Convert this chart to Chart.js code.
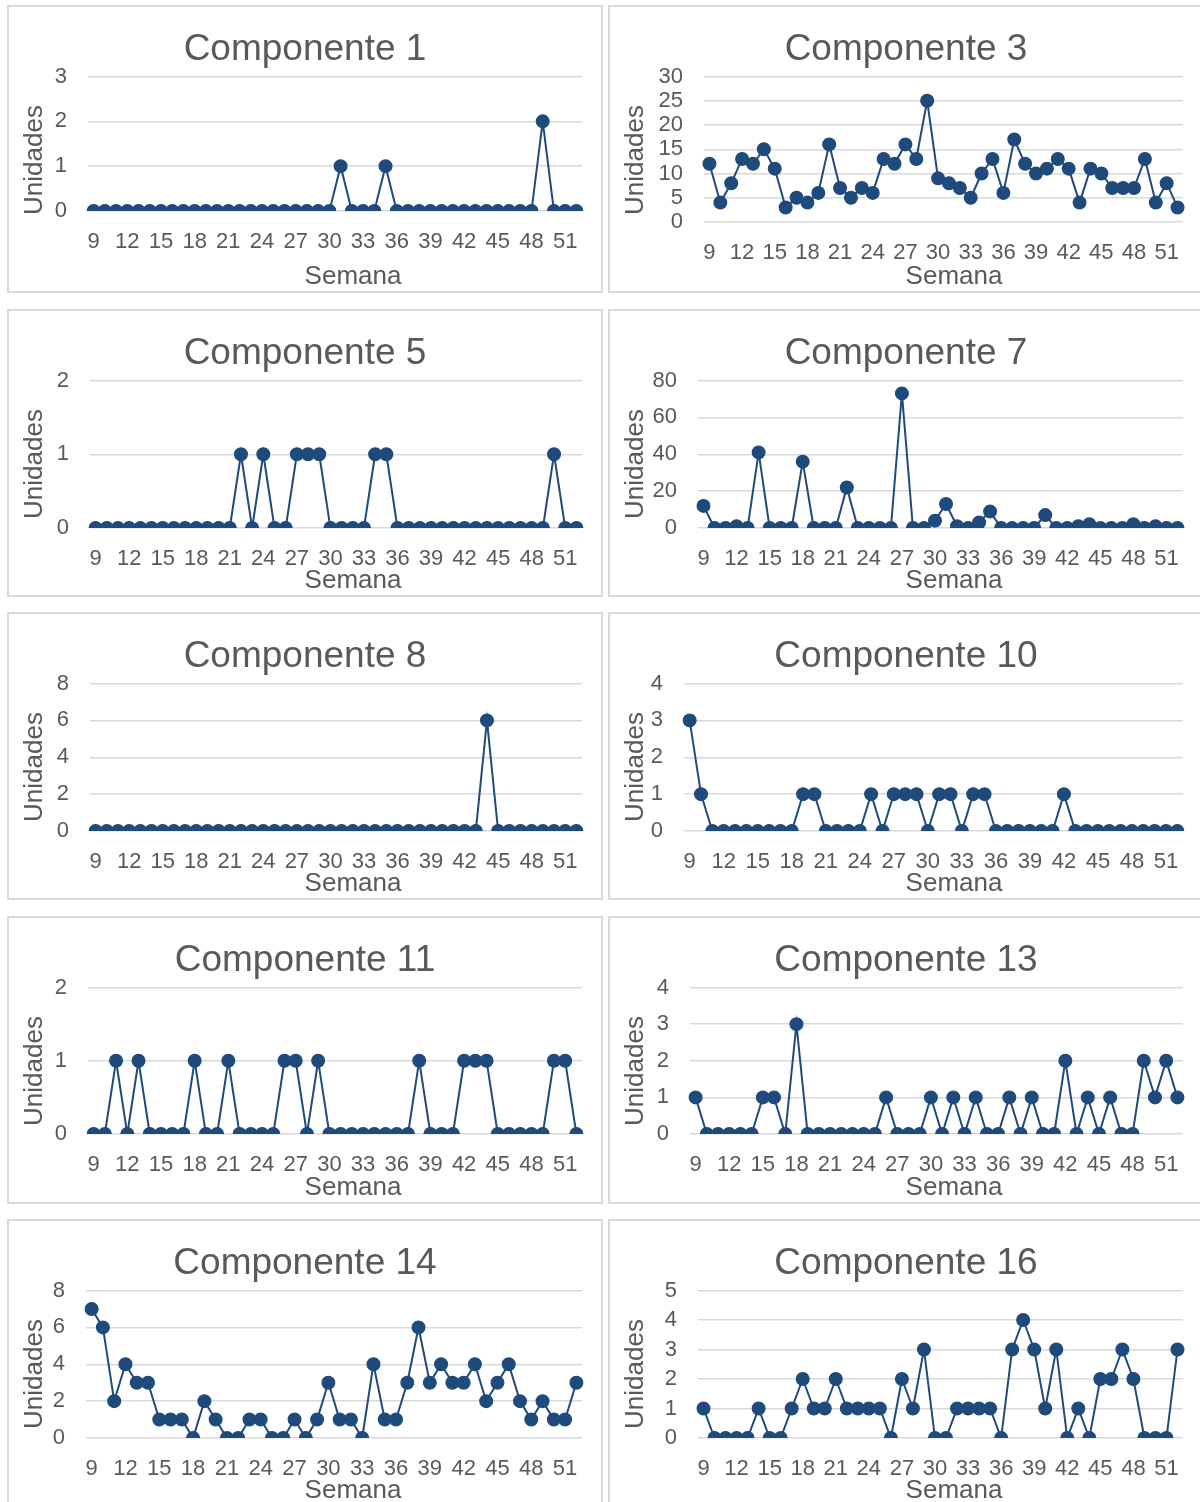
<!DOCTYPE html>
<html lang="es">
<head>
<meta charset="utf-8">
<title>Unidades por semana y componente</title>
<script src="https://cdn.jsdelivr.net/npm/chart.js@4"></script>
<style>
  html, body { margin: 0; padding: 0; background: #fff; }
  body { width: 1200px; height: 1502px; position: relative; overflow: hidden; }
  .panel {
    position: absolute;
    width: 596px;
    height: 288px;
    box-sizing: border-box;
    border: 2px solid #d9d9d9;
  }
  .panel canvas { position: absolute; left: -2px; top: -2px; }
</style>
</head>
<body>
<script>
// semanas del año (eje x)
const semanas = [9, 10, 11, 12, 13, 14, 15, 16, 17, 18, 19, 20, 21, 22, 23, 24, 25, 26, 27, 28, 29, 30,
  31, 32, 33, 34, 35, 36, 37, 38, 39, 40, 41, 42, 43, 44, 45, 46, 47, 48, 49, 50, 51, 52];

// unidades por semana de cada componente
const comp1 = [0, 0, 0, 0, 0, 0, 0, 0, 0, 0, 0, 0, 0, 0, 0, 0, 0, 0, 0, 0, 0, 0,
  1, 0, 0, 0, 1, 0, 0, 0, 0, 0, 0, 0, 0, 0, 0, 0, 0, 0, 2, 0, 0, 0];
const comp3 = [12, 4, 8, 13, 12, 15, 11, 3, 5, 4, 6, 16, 7, 5, 7, 6, 13, 12, 16, 13, 25, 9,
  8, 7, 5, 10, 13, 6, 17, 12, 10, 11, 13, 11, 4, 11, 10, 7, 7, 7, 13, 4, 8, 3];
const comp5 = [0, 0, 0, 0, 0, 0, 0, 0, 0, 0, 0, 0, 0, 1, 0, 1, 0, 0, 1, 1, 1, 0,
  0, 0, 0, 1, 1, 0, 0, 0, 0, 0, 0, 0, 0, 0, 0, 0, 0, 0, 0, 1, 0, 0];
const comp7 = [12, 0, 0, 1, 0, 41, 0, 0, 0, 36, 0, 0, 0, 22, 0, 0, 0, 0, 73, 0, 0, 4,
  13, 1, 0, 3, 9, 0, 0, 0, 0, 7, 0, 0, 1, 2, 0, 0, 0, 2, 0, 1, 0, 0];
const comp8 = [0, 0, 0, 0, 0, 0, 0, 0, 0, 0, 0, 0, 0, 0, 0, 0, 0, 0, 0, 0, 0, 0,
  0, 0, 0, 0, 0, 0, 0, 0, 0, 0, 0, 0, 0, 6, 0, 0, 0, 0, 0, 0, 0, 0];
const comp10 = [3, 1, 0, 0, 0, 0, 0, 0, 0, 0, 1, 1, 0, 0, 0, 0, 1, 0, 1, 1, 1, 0,
  1, 1, 0, 1, 1, 0, 0, 0, 0, 0, 0, 1, 0, 0, 0, 0, 0, 0, 0, 0, 0, 0];
const comp11 = [0, 0, 1, 0, 1, 0, 0, 0, 0, 1, 0, 0, 1, 0, 0, 0, 0, 1, 1, 0, 1, 0,
  0, 0, 0, 0, 0, 0, 0, 1, 0, 0, 0, 1, 1, 1, 0, 0, 0, 0, 0, 1, 1, 0];
const comp13 = [1, 0, 0, 0, 0, 0, 1, 1, 0, 3, 0, 0, 0, 0, 0, 0, 0, 1, 0, 0, 0, 1,
  0, 1, 0, 1, 0, 0, 1, 0, 1, 0, 0, 2, 0, 1, 0, 1, 0, 0, 2, 1, 2, 1];
const comp14 = [7, 6, 2, 4, 3, 3, 1, 1, 1, 0, 2, 1, 0, 0, 1, 1, 0, 0, 1, 0, 1, 3,
  1, 1, 0, 4, 1, 1, 3, 6, 3, 4, 3, 3, 4, 2, 3, 4, 2, 1, 2, 1, 1, 3];
const comp16 = [1, 0, 0, 0, 0, 1, 0, 0, 1, 2, 1, 1, 2, 1, 1, 1, 1, 0, 2, 1, 3, 0,
  0, 1, 1, 1, 1, 0, 3, 4, 3, 1, 3, 0, 1, 0, 2, 2, 3, 2, 0, 0, 0, 3];

// un gráfico por componente: título, serie y escala del eje y
const graficos = [
  { titulo: 'Componente 1', datos: comp1, max: 3, paso: 1 },
  { titulo: 'Componente 3', datos: comp3, max: 30, paso: 5 },
  { titulo: 'Componente 5', datos: comp5, max: 2, paso: 1 },
  { titulo: 'Componente 7', datos: comp7, max: 80, paso: 20 },
  { titulo: 'Componente 8', datos: comp8, max: 8, paso: 2 },
  { titulo: 'Componente 10', datos: comp10, max: 4, paso: 1 },
  { titulo: 'Componente 11', datos: comp11, max: 2, paso: 1 },
  { titulo: 'Componente 13', datos: comp13, max: 4, paso: 1 },
  { titulo: 'Componente 14', datos: comp14, max: 8, paso: 2 },
  { titulo: 'Componente 16', datos: comp16, max: 5, paso: 1 }
];

// rejilla de paneles (px de página)
const columnas = [7, 608];
const filas = [5, 309, 612, 916, 1219];
const ANCHO = 596, ALTO = 288;

// margen izquierdo del área de trazado y posición de la línea del cero
const anchoEjeY = [81, 96, 83, 90, 83, 76, 81, 82, 79, 90];
const baseArea = [206, 217, 219, 219, 219, 219, 218, 218, 219, 219];

const FUENTE = "'Liberation Sans', Arial, sans-serif";
const GRIS = '#595959';
const AZUL = '#1f4a7c';

// títulos de los ejes en posición fija dentro del panel
const titulosEjes = {
  id: 'titulosEjes',
  afterDraw(chart) {
    const ctx = chart.ctx;
    ctx.save();
    ctx.fillStyle = GRIS;
    ctx.font = `26px ${FUENTE}`;
    ctx.textAlign = 'center';
    ctx.textBaseline = 'middle';
    ctx.fillText('Semana', 346, 271.5);
    ctx.translate(28, 155);
    ctx.rotate(-Math.PI / 2);
    ctx.fillText('Unidades', 0, 0);
    ctx.restore();
  }
};

graficos.forEach((g, i) => {
  const panel = document.createElement('div');
  panel.className = 'panel';
  panel.style.left = columnas[i % 2] + 'px';
  panel.style.top = filas[Math.floor(i / 2)] + 'px';
  const canvas = document.createElement('canvas');
  canvas.width = ANCHO;
  canvas.height = ALTO;
  panel.appendChild(canvas);
  document.body.appendChild(panel);

  new Chart(canvas, {
    type: 'line',
    data: {
      labels: semanas,
      datasets: [{
        data: g.datos,
        borderColor: AZUL,
        backgroundColor: AZUL,
        pointBackgroundColor: AZUL,
        borderWidth: 2,
        pointRadius: 6.4,
        pointBorderWidth: 1.2,
        tension: 0
      }]
    },
    plugins: [titulosEjes],
    options: {
      responsive: false,
      animation: false,
      layout: { padding: 0 },
      plugins: {
        legend: { display: false },
        tooltip: { enabled: false },
        title: {
          display: true,
          text: g.titulo,
          color: GRIS,
          font: { family: FUENTE, size: 37, weight: 'normal' },
          padding: { top: 22.4, bottom: 4.7 }
        }
      },
      scales: {
        x: {
          offset: true,
          grid: { display: false, drawTicks: false },
          border: { display: false },
          ticks: {
            autoSkip: false,
            maxRotation: 0,
            color: GRIS,
            font: { family: FUENTE, size: 22 },
            padding: 17.5,
            callback: (v, k) => (k % 3 === 0 ? semanas[k] : '')
          },
          afterFit: s => {
            s.height = ALTO - baseArea[i];
            s.paddingRight = 21;
          }
        },
        y: {
          min: 0,
          max: g.max,
          ticks: {
            stepSize: g.paso,
            autoSkip: false,
            color: GRIS,
            font: { family: FUENTE, size: 22 },
            padding: 21
          },
          grid: { color: '#d9d9d9', lineWidth: 1.4, drawTicks: false },
          border: { display: false },
          afterFit: s => { s.width = anchoEjeY[i]; }
        }
      }
    }
  });
});
</script>
</body>
</html>
